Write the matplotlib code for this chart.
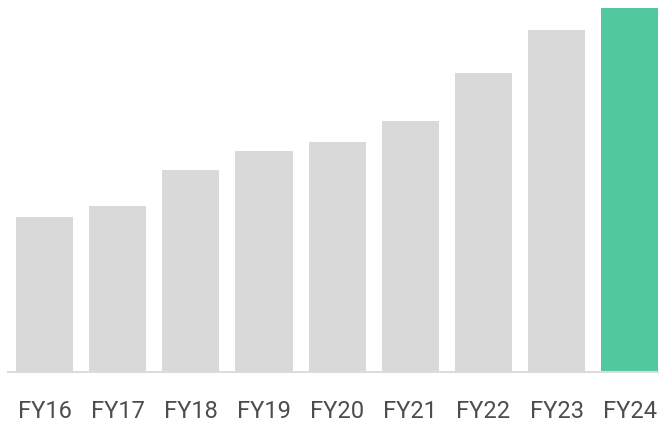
import matplotlib
matplotlib.use("Agg")
import matplotlib.pyplot as plt

years = ["FY16", "FY17", "FY18", "FY19", "FY20", "FY21", "FY22", "FY23", "FY24"]
values = [155, 166, 202, 221, 230, 251, 299, 342, 364]
colors = ["#d9d9d9"] * 8 + ["#52c89e"]

fig = plt.figure(figsize=(6.59, 4.25), dpi=100)
ax = fig.add_axes([8 / 659, 53 / 425, 651 / 659, 364 / 425])

ax.bar(range(len(years)), values, width=0.78, color=colors)
ax.set_xlim(-0.5, 8.4)
ax.set_ylim(0, 364)

for side in ["top", "right", "left"]:
    ax.spines[side].set_visible(False)
ax.spines["bottom"].set_color("#dcdcdc")
ax.spines["bottom"].set_linewidth(1.5)
ax.set_yticks([])
ax.set_xticks(range(len(years)))
ax.set_xticklabels(years, fontsize=17, color="#4d4d4d", family="Roboto")
ax.tick_params(axis="x", length=0, pad=20)

fig.savefig("out.png", dpi=100)
